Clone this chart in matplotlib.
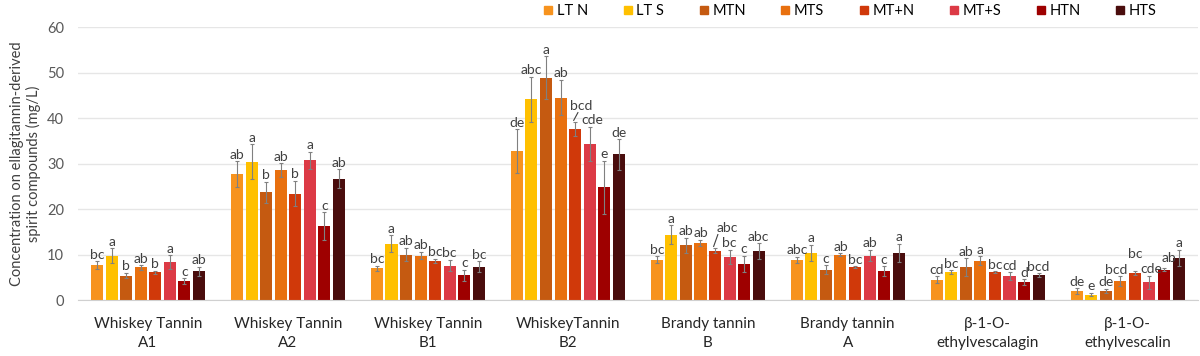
import numpy as np
import matplotlib
matplotlib.use("Agg")
import matplotlib.pyplot as plt
from matplotlib.lines import Line2D

plt.rcParams['font.family'] = ['Lato', 'DejaVu Sans']

categories = ["Whiskey Tannin\nA1", "Whiskey Tannin\nA2", "Whiskey Tannin\nB1",
              "WhiskeyTannin\nB2", "Brandy tannin\nB", "Brandy tannin\nA",
              "β-1-O-\nethylvescalagin", "β-1-O-\nethylvescalin"]
series = ["LT N", "LT S", "MTN", "MTS", "MT+N", "MT+S", "HTN", "HTS"]
colors = ["#F7931E", "#FFC000", "#C55A11", "#E8700F", "#D0390A", "#DC3A45", "#9E0000", "#4A0D0D"]

# values per series (one entry per category)
lt_n = [7.7, 27.7, 7.0, 32.8, 8.9, 8.8, 4.5, 2.0]
lt_s = [9.8, 30.4, 12.4, 44.1, 14.4, 10.4, 6.2, 1.2]
mtn = [5.4, 23.7, 10.0, 48.9, 12.0, 6.7, 7.2, 2.0]
mts = [7.2, 28.6, 9.8, 44.5, 12.6, 10.0, 8.7, 4.2]
mt_n = [6.1, 23.4, 8.6, 37.6, 10.9, 7.3, 6.2, 5.9]
mt_s = [8.4, 30.7, 7.6, 34.3, 9.5, 9.8, 5.3, 3.9]
htn = [4.2, 16.3, 5.5, 24.8, 8.0, 6.4, 4.0, 6.7]
hts = [6.3, 26.7, 7.3, 32.0, 10.8, 10.4, 5.5, 9.3]

lt_n_err = [0.8, 2.8, 0.6, 4.8, 0.8, 0.7, 0.8, 0.6]
lt_s_err = [1.6, 3.8, 1.8, 5.0, 2.0, 1.8, 0.4, 0.4]
mtn_err = [0.6, 2.3, 1.5, 4.7, 1.7, 1.0, 2.0, 0.5]
mts_err = [0.5, 1.5, 0.8, 3.9, 0.7, 0.3, 1.0, 1.0]
mt_n_err = [0.4, 2.8, 0.5, 1.5, 0.5, 0.2, 0.2, 0.4]
mt_s_err = [1.5, 1.9, 1.3, 3.8, 1.6, 1.3, 0.8, 1.5]
htn_err = [0.6, 3.0, 1.2, 5.8, 1.8, 1.0, 0.6, 0.4]
hts_err = [1.0, 2.0, 1.2, 3.4, 1.7, 2.0, 0.4, 1.8]

lt_n_lab = ["bc", "ab", "bc", "de", "bc", "abc", "cd", "de"]
lt_s_lab = ["a", "a", "a", "abc", "a", "a", "bc", "e"]
mtn_lab = ["b", "b", "ab", "a", "ab", "c", "ab", "de"]
mts_lab = ["ab", "ab", "ab", "ab", "ab", "ab", "a", "bcd"]
mt_n_lab = ["b", "b", "bc", "bcd", "abc", "bc", "bc", "bc"]
mt_s_lab = ["a", "a", "bc", "cde", "bc", "ab", "cd", "cde"]
htn_lab = ["c", "c", "c", "e", "c", "c", "d", "ab"]
hts_lab = ["ab", "ab", "bc", "de", "abc", "a", "bcd", "a"]

values = [lt_n, lt_s, mtn, mts, mt_n, mt_s, htn, hts]
errors = [lt_n_err, lt_s_err, mtn_err, mts_err, mt_n_err, mt_s_err, htn_err, hts_err]
labels = [lt_n_lab, lt_s_lab, mtn_lab, mts_lab, mt_n_lab, mt_s_lab, htn_lab, hts_lab]

# letters moved by hand in the original: (series, category) -> (dx, y, leader)
moved = {(4, 3): (0.04, 41.4, True), (5, 3): (0.02, None, False),
         (4, 4): (0.09, 14.6, True),
         (3, 7): (-0.03, None, False), (4, 7): (0.0, 8.8, False),
         (5, 7): (0.015, None, False), (6, 7): (0.035, 8.0, False)}

fig = plt.figure(figsize=(12, 3.56), dpi=100)
ax = fig.add_axes([0.065, 0.157, 0.933, 0.767])

x = np.arange(len(categories))
pitch = 0.104
width = 0.086
for i, name in enumerate(series):
    xs = x + (i - 3.5) * pitch
    ax.bar(xs, values[i], width, color=colors[i], label=name, zorder=2)
    ax.errorbar(xs, values[i], yerr=errors[i], fmt='none', ecolor='#808080',
                elinewidth=0.8, capsize=1.5, capthick=0.8, zorder=3)
    for j in range(len(categories)):
        top = values[i][j] + errors[i][j]
        dx, ty, lead = moved.get((i, j), (0.0, None, False))
        if ty is None:
            ty = top + 0.1
        ax.text(xs[j] + dx, ty, labels[i][j], ha='center', va='bottom',
                fontsize=10, color='#404040', zorder=4)
        if lead:
            ax.plot([xs[j] - 0.01, xs[j] + 0.02], [top + 0.4, ty - 0.2],
                    color='#404040', lw=0.8, zorder=4)

ax.set_xlim(-0.5, 7.5)
ax.set_ylim(0, 60)
ax.set_yticks(range(0, 61, 10))
ax.set_xticks(x)
ax.set_xticklabels(categories, fontsize=11, color='#262626', linespacing=1.5)
ax.tick_params(axis='y', labelsize=10.5, colors='#595959', length=0, pad=10)
ax.tick_params(axis='x', length=0, pad=12)
ax.grid(axis='y', color='#E6E6E6', lw=1, zorder=0)
for s in ['top', 'right', 'left']:
    ax.spines[s].set_visible(False)
ax.spines['bottom'].set_color('#D0D0D0')
ax.set_ylabel("Concentration on ellagitannin-derived\nspirit compounds (mg/L)",
              fontsize=10.5, color='#404040', labelpad=4)

handles = [Line2D([], [], marker='s', ls='none', color=c, markersize=6) for c in colors]
fig.legend(handles, series, loc='upper right', bbox_to_anchor=(0.975, 1.025), ncol=8,
           frameon=False, fontsize=10.5, handletextpad=0.1, columnspacing=2.2,
           handlelength=1.0)

fig.savefig("out.png", dpi=100)
